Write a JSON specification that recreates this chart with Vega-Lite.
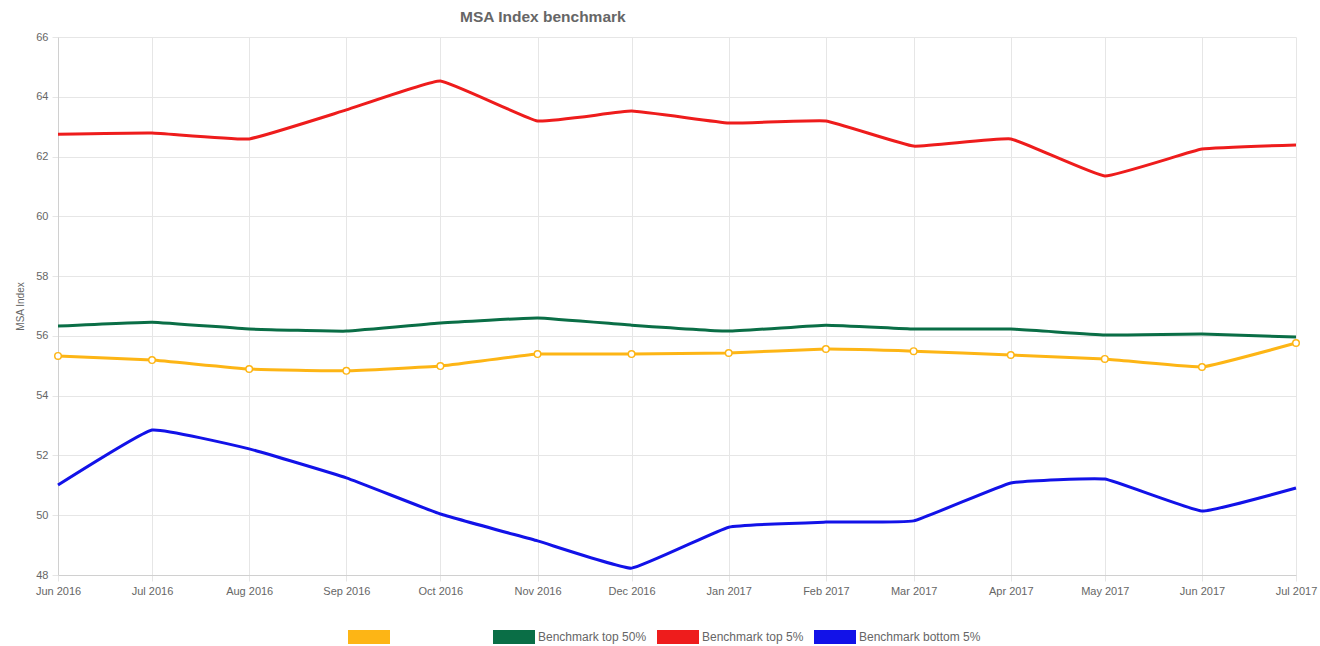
{
  "$schema": "https://vega.github.io/schema/vega-lite/v6.json",
  "autosize": {"type": "none"},
  "width": 1238,
  "height": 538,
  "padding": {"left": 58, "top": 37, "right": 24, "bottom": 71},
  "background": "white",
  "config": {
    "font": "Liberation Sans",
    "view": {"stroke": null},
    "axis": {"labelColor": "#666666", "labelFontSize": 11, "gridColor": "#e6e6e6", "tickColor": "#e6e6e6", "domainColor": "#d0d0d0", "titleColor": "#666666", "titleFontWeight": "normal"}
  },
  "title": {"text": "MSA Index benchmark", "anchor": "start", "frame": "group", "dx": 402, "offset": 6, "fontSize": 15.5, "fontWeight": "bold", "color": "#666666", "font": "Liberation Sans"},
  "data": {"values": [
    {"month": "2016-06-01", "series": "Company", "marker": "Company", "value": 55.33},
    {"month": "2016-07-01", "series": "Company", "marker": "Company", "value": 55.19},
    {"month": "2016-08-01", "series": "Company", "marker": "Company", "value": 54.89},
    {"month": "2016-09-01", "series": "Company", "marker": "Company", "value": 54.83},
    {"month": "2016-10-01", "series": "Company", "marker": "Company", "value": 54.99},
    {"month": "2016-11-01", "series": "Company", "marker": "Company", "value": 55.39},
    {"month": "2016-12-01", "series": "Company", "marker": "Company", "value": 55.39},
    {"month": "2017-01-01", "series": "Company", "marker": "Company", "value": 55.43},
    {"month": "2017-02-01", "series": "Company", "marker": "Company", "value": 55.56},
    {"month": "2017-03-01", "series": "Company", "marker": "Company", "value": 55.49},
    {"month": "2017-04-01", "series": "Company", "marker": "Company", "value": 55.36},
    {"month": "2017-05-01", "series": "Company", "marker": "Company", "value": 55.23},
    {"month": "2017-06-01", "series": "Company", "marker": "Company", "value": 54.96},
    {"month": "2017-07-01", "series": "Company", "marker": "Company", "value": 55.76},
    {"month": "2016-06-01", "series": "Benchmark top 50%", "value": 56.33},
    {"month": "2016-07-01", "series": "Benchmark top 50%", "value": 56.46},
    {"month": "2016-08-01", "series": "Benchmark top 50%", "value": 56.23},
    {"month": "2016-09-01", "series": "Benchmark top 50%", "value": 56.16},
    {"month": "2016-10-01", "series": "Benchmark top 50%", "value": 56.43},
    {"month": "2016-11-01", "series": "Benchmark top 50%", "value": 56.6},
    {"month": "2016-12-01", "series": "Benchmark top 50%", "value": 56.36},
    {"month": "2017-01-01", "series": "Benchmark top 50%", "value": 56.16},
    {"month": "2017-02-01", "series": "Benchmark top 50%", "value": 56.36},
    {"month": "2017-03-01", "series": "Benchmark top 50%", "value": 56.23},
    {"month": "2017-04-01", "series": "Benchmark top 50%", "value": 56.23},
    {"month": "2017-05-01", "series": "Benchmark top 50%", "value": 56.03},
    {"month": "2017-06-01", "series": "Benchmark top 50%", "value": 56.06},
    {"month": "2017-07-01", "series": "Benchmark top 50%", "value": 55.96},
    {"month": "2016-06-01", "series": "Benchmark top 5%", "value": 62.75},
    {"month": "2016-07-01", "series": "Benchmark top 5%", "value": 62.79},
    {"month": "2016-08-01", "series": "Benchmark top 5%", "value": 62.59},
    {"month": "2016-09-01", "series": "Benchmark top 5%", "value": 63.56},
    {"month": "2016-10-01", "series": "Benchmark top 5%", "value": 64.53},
    {"month": "2016-11-01", "series": "Benchmark top 5%", "value": 63.19},
    {"month": "2016-12-01", "series": "Benchmark top 5%", "value": 63.52},
    {"month": "2017-01-01", "series": "Benchmark top 5%", "value": 63.12},
    {"month": "2017-02-01", "series": "Benchmark top 5%", "value": 63.19},
    {"month": "2017-03-01", "series": "Benchmark top 5%", "value": 62.35},
    {"month": "2017-04-01", "series": "Benchmark top 5%", "value": 62.59},
    {"month": "2017-05-01", "series": "Benchmark top 5%", "value": 61.35},
    {"month": "2017-06-01", "series": "Benchmark top 5%", "value": 62.25},
    {"month": "2017-07-01", "series": "Benchmark top 5%", "value": 62.39},
    {"month": "2016-06-01", "series": "Benchmark bottom 5%", "value": 51.01},
    {"month": "2016-07-01", "series": "Benchmark bottom 5%", "value": 52.85},
    {"month": "2016-08-01", "series": "Benchmark bottom 5%", "value": 52.22},
    {"month": "2016-09-01", "series": "Benchmark bottom 5%", "value": 51.25},
    {"month": "2016-10-01", "series": "Benchmark bottom 5%", "value": 50.04},
    {"month": "2016-11-01", "series": "Benchmark bottom 5%", "value": 49.14},
    {"month": "2016-12-01", "series": "Benchmark bottom 5%", "value": 48.23},
    {"month": "2017-01-01", "series": "Benchmark bottom 5%", "value": 49.6},
    {"month": "2017-02-01", "series": "Benchmark bottom 5%", "value": 49.77},
    {"month": "2017-03-01", "series": "Benchmark bottom 5%", "value": 49.81},
    {"month": "2017-04-01", "series": "Benchmark bottom 5%", "value": 51.08},
    {"month": "2017-05-01", "series": "Benchmark bottom 5%", "value": 51.21},
    {"month": "2017-06-01", "series": "Benchmark bottom 5%", "value": 50.14},
    {"month": "2017-07-01", "series": "Benchmark bottom 5%", "value": 50.91}
  ]},
  "encoding": {
    "x": {
      "field": "month", "type": "temporal",
      "scale": {"type": "utc", "domain": [{"year": 2016, "month": 6, "date": 1, "utc": true}, {"year": 2017, "month": 7, "date": 1, "utc": true}], "nice": false},
      "axis": {"title": null, "labelExpr": "utcFormat(datum.value, '%b %Y')", "tickCount": {"interval": "month", "step": 1}, "labelFlush": false, "labelPadding": 4, "tickSize": 6, "labelOverlap": false}
    },
    "y": {
      "field": "value", "type": "quantitative",
      "scale": {"domain": [48, 66], "nice": false, "zero": false},
      "axis": {"title": "MSA Index", "titleFontSize": 10, "titlePadding": 10, "values": [48, 50, 52, 54, 56, 58, 60, 62, 64, 66], "tickSize": 6, "labelPadding": 4}
    }
  },
  "layer": [
    {
      "mark": {"type": "line", "strokeWidth": 3, "interpolate": "cardinal", "tension": 0.7},
      "encoding": {
        "stroke": {
          "field": "series", "type": "nominal",
          "scale": {"domain": ["Company", "Benchmark top 50%", "Benchmark top 5%", "Benchmark bottom 5%"], "range": ["#FDB515", "#0A6E46", "#EE1C1C", "#1212E8"]},
          "legend": {
            "title": null, "orient": "none", "legendX": 435, "legendY": 579, "direction": "horizontal",
            "values": ["Benchmark top 50%", "Benchmark top 5%", "Benchmark bottom 5%"],
            "symbolType": "M-1,-0.33H1V0.33H-1Z", "symbolSize": 1764, "symbolStrokeWidth": 0,
            "labelFontSize": 12, "labelColor": "#666666", "columnPadding": 10, "labelOffset": 3,
            "encode": {"symbols": {"update": {"fill": {"scale": "stroke", "field": "value"}, "opacity": {"value": 1}}}}
          }
        }
      }
    },
    {
      "transform": [{"filter": "datum.series == 'Company'"}],
      "mark": {"type": "point", "filled": true, "strokeWidth": 0, "size": 64, "opacity": 1},
      "encoding": {
        "fill": {
          "field": "marker", "type": "nominal",
          "scale": {"domain": ["Company"], "range": ["#FDB515"]},
          "legend": {
            "title": null, "orient": "none", "legendX": 290, "legendY": 579, "direction": "horizontal",
            "symbolType": "M-1,-0.33H1V0.33H-1Z", "symbolSize": 1764, "symbolStrokeWidth": 0,
            "labelExpr": "''", "labelFontSize": 12,
            "encode": {"symbols": {"update": {"opacity": {"value": 1}}}}
          }
        }
      }
    },
    {
      "transform": [{"filter": "datum.series == 'Company'"}],
      "mark": {"type": "point", "filled": true, "fill": "#ffffff", "strokeWidth": 0, "size": 26, "opacity": 1}
    }
  ]
}
